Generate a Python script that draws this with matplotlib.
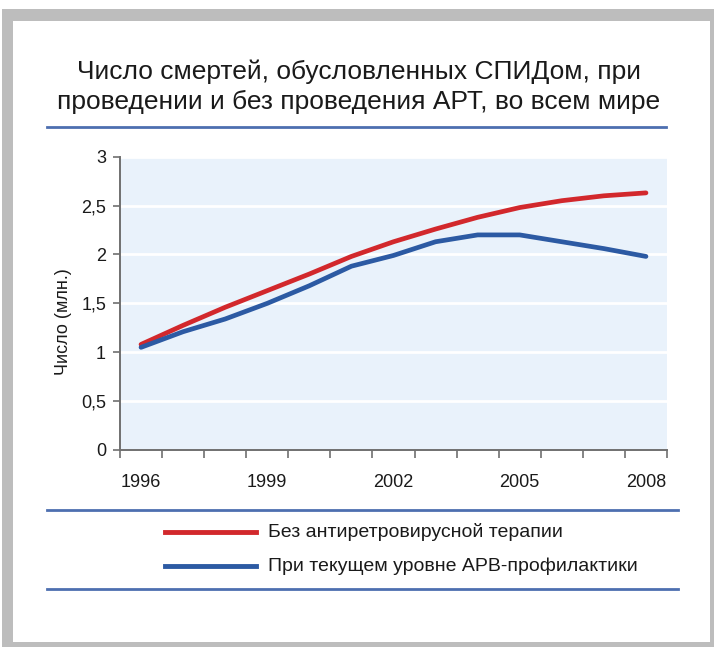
import matplotlib
matplotlib.use("Agg")
import matplotlib.pyplot as plt
from matplotlib.patches import Rectangle
from matplotlib.lines import Line2D

plt.rcParams['font.family'] = ['Liberation Sans', 'DejaVu Sans']

years = list(range(1996, 2009))
no_art = [1.08, 1.275, 1.46, 1.63, 1.80, 1.98, 2.13, 2.26, 2.38, 2.48, 2.55, 2.60, 2.63]
with_art = [1.05, 1.21, 1.34, 1.50, 1.68, 1.88, 1.99, 2.13, 2.20, 2.20, 2.13, 2.06, 1.98]
label_years = [1996, 1999, 2002, 2005, 2008]
y_ticks = [0, 0.5, 1, 1.5, 2, 2.5, 3]
y_tick_labels = ["0", "0,5", "1", "1,5", "2", "2,5", "3"]
title = "Число смертей, обусловленных СПИДом, при\nпроведении и без проведения АРТ, во всем мире"
ylabel = "Число (млн.)"
legend_labels = ["Без антиретровирусной терапии", "При текущем уровне АРВ-профилактики"]

RED = "#d2282c"
BLUE = "#2c5aa3"
W, H = 714, 647

fig = plt.figure(figsize=(W / 100, H / 100), dpi=100)
fig.patch.set_facecolor("white")

def fx(x):
    return x / W

def fy(y):
    return 1 - y / H

# outer grey frame
fig.patches.append(Rectangle((fx(2), fy(647)), fx(712), 638 / H, transform=fig.transFigure,
                             facecolor="#bdbdbd", edgecolor="none", zorder=-5))
fig.patches.append(Rectangle((fx(13), fy(642)), fx(697), 621 / H, transform=fig.transFigure,
                             facecolor="white", edgecolor="none", zorder=-4))

# title and rules
fig.text(fx(359), fy(87), title, ha="center", va="center", fontsize=19,
         color="#1a1a1a", linespacing=1.3)
line_col = "#4d6fb0"
fig.lines.append(Line2D([fx(47), fx(666)], [fy(127), fy(127)], transform=fig.transFigure,
                        color=line_col, lw=2))
fig.lines.append(Line2D([fx(47), fx(678)], [fy(510), fy(510)], transform=fig.transFigure,
                        color=line_col, lw=2))
fig.lines.append(Line2D([fx(47), fx(678)], [fy(589), fy(589)], transform=fig.transFigure,
                        color=line_col, lw=2))

ax = fig.add_axes([fx(120), fy(450), fx(667) - fx(120), (450 - 156.7) / H])
ax.set_zorder(2)
ax.set_facecolor("#e9f2fb")
x = list(range(len(years)))
ax.plot(x, no_art, color=RED, lw=3.4, solid_capstyle="round", zorder=3)
ax.plot(x, with_art, color=BLUE, lw=3.4, solid_capstyle="round", zorder=3)

ax.set_xlim(-0.5, len(years) - 0.5)
ax.set_ylim(0, 3)
ax.set_yticks(y_ticks)
ax.set_yticklabels(y_tick_labels)
for yv in y_ticks[1:]:
    ax.axhline(yv, color="white", lw=2, zorder=1)

ax.set_xticks([i - 0.5 for i in range(len(years) + 1)])
ax.set_xticklabels([])
ax.set_xticks([years.index(y) for y in label_years], minor=True)
ax.set_xticklabels([str(y) for y in label_years], minor=True)
ax.tick_params(axis="x", which="major", direction="out", length=6, width=1.2, color="#707070")
ax.tick_params(axis="x", which="minor", length=0, pad=17, labelsize=13, labelcolor="#1a1a1a")
ax.tick_params(axis="y", direction="out", length=5, width=1.2, color="#707070",
               labelsize=13, labelcolor="#1a1a1a", pad=5)
for s in ["top", "right"]:
    ax.spines[s].set_visible(False)
for s in ["left", "bottom"]:
    ax.spines[s].set_color("#707070")
    ax.spines[s].set_linewidth(1.4)

fig.text(fx(64), fy(322), ylabel, rotation=90, ha="center", va="center",
         fontsize=13, color="#1a1a1a")

# legend
for yy, col, lab in [(532, RED, legend_labels[0]), (566, BLUE, legend_labels[1])]:
    fig.lines.append(Line2D([fx(165), fx(256)], [fy(yy), fy(yy)], transform=fig.transFigure,
                            color=col, lw=3.5))
    fig.text(fx(268), fy(yy), lab, ha="left", va="center", fontsize=14, color="#1a1a1a")

fig.savefig("out.png", dpi=100, facecolor="white")
